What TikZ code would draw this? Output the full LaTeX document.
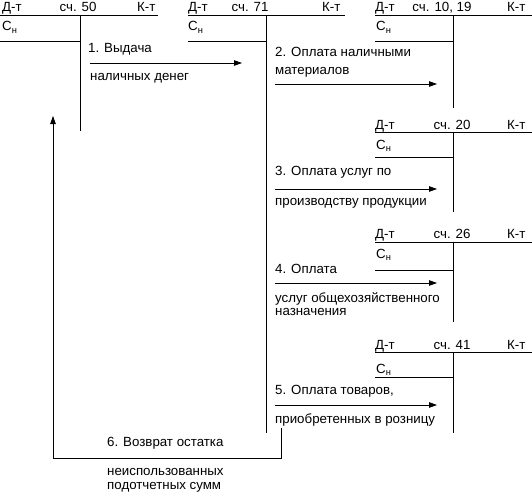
\documentclass[tikz,border=0pt]{standalone}
\usepackage{fontspec}
\setmainfont{Liberation Sans}
\usetikzlibrary{arrows.meta}

\begin{document}
\begin{tikzpicture}[
x=1pt,y=-1pt,
txt/.style={anchor=base west,inner sep=0pt,font=\fontsize{13.3}{14}\selectfont},
title/.style={anchor=base,inner sep=0pt,font=\fontsize{13.3}{14}\selectfont},
acc/.style={line width=0.8pt},
arrow/.style={-{Triangle[length=8pt,width=5.5pt]},line width=0.8pt}
]
\useasboundingbox (0,0) rectangle (532,492);

% accounts
\draw[acc] (0,15) -- (158,15) (80.5,15) -- (80.5,131) (0,41) -- (80.5,41);
\node[txt] (dt50) at (2,11.5) {Д-т};
\node[title] (n50) at (78,11.5) {сч. 50};
\node[txt] (kt50) at (137,11.5) {К-т};
\node[txt] (sn50) at (2,31) {С\textsubscript{н}};

\draw[acc] (188,15) -- (345,15) (266,15) -- (266,433) (188,41) -- (266,41);
\node[txt] (dt71) at (188,11.5) {Д-т};
\node[title] (n71) at (250,11.5) {сч. 71};
\node[txt] (kt71) at (322,11.5) {К-т};
\node[txt] (sn71) at (188,31) {С\textsubscript{н}};

\draw[acc] (375,15) -- (532,15) (453,15) -- (453,108) (375,41) -- (453,41);
\node[txt] (dt10) at (375,11.5) {Д-т};
\node[title] (n10) at (442,11.5) {сч. 10, 19};
\node[txt] (kt10) at (507,11.5) {К-т};
\node[txt] (sn10) at (376,31) {С\textsubscript{н}};

\draw[acc] (375,132) -- (532,132) (453,132) -- (453,212) (375,157) -- (454,157);
\node[txt] (dt20) at (375,129) {Д-т};
\node[title] (n20) at (452,129) {сч. 20};
\node[txt] (kt20) at (507,129) {К-т};
\node[txt] (sn20) at (376,149) {С\textsubscript{н}};

\draw[acc] (375,242) -- (532,242) (453,242) -- (453,322) (375,270) -- (454,270);
\node[txt] (dt26) at (375,238) {Д-т};
\node[title] (n26) at (452,238) {сч. 26};
\node[txt] (kt26) at (507,238) {К-т};
\node[txt] (sn26) at (376,258) {С\textsubscript{н}};

\draw[acc] (375,352) -- (532,352) (453,352) -- (453,433) (375,377) -- (454,377);
\node[txt] (dt41) at (375,349) {Д-т};
\node[title] (n41) at (452,349) {сч. 41};
\node[txt] (kt41) at (507,349) {К-т};
\node[txt] (sn41) at (376,373) {С\textsubscript{н}};

% entries
\coordinate (s1) at (90,63);
\coordinate (e1) at (242,63);
\coordinate (s2) at (275,84);
\coordinate (e2) at (437,84);
\coordinate (s3) at (275,189);
\coordinate (e3) at (437,189);
\coordinate (s4) at (275,283);
\coordinate (e4) at (437,283);
\coordinate (s5) at (275,405);
\coordinate (e5) at (437,405);
\coordinate (s6) at (281,428);
\coordinate (c6) at (281,458);
\coordinate (e6) at (53,116);

\node[txt] (l1a) at (88,53) {1. Выдача};
\node[txt] (l1b) at (90,81) {наличных денег};
\node[txt] (l2a) at (275,57) {2. Оплата наличными};
\node[txt] (l2b) at (275,75) {материалов};
\node[txt] (l3a) at (275,175) {3. Оплата услуг по};
\node[txt] (l3b) at (275,205) {производству продукции};
\node[txt] (l4a) at (275,273) {4. Оплата};
\node[txt] (l4b) at (275,302) {услуг общехозяйственного};
\node[txt] (l4c) at (275,315.5) {назначения};
\node[txt] (l5a) at (275,394) {5. Оплата товаров,};
\node[txt] (l5b) at (275,423) {приобретенных в розницу};
\node[txt] (l6a) at (107,446) {6. Возврат остатка};
\node[txt] (l6b) at (107,475) {неиспользованных};
\node[txt] (l6c) at (107,489) {подотчетных сумм};

\draw[arrow] (s1) -- (e1);
\draw[arrow] (s2) -- (e2);
\draw[arrow] (s3) -- (e3);
\draw[arrow] (s4) -- (e4);
\draw[arrow] (s5) -- (e5);
\draw[arrow] (s6) -- (c6) -| (e6);
\end{tikzpicture}
\end{document}
